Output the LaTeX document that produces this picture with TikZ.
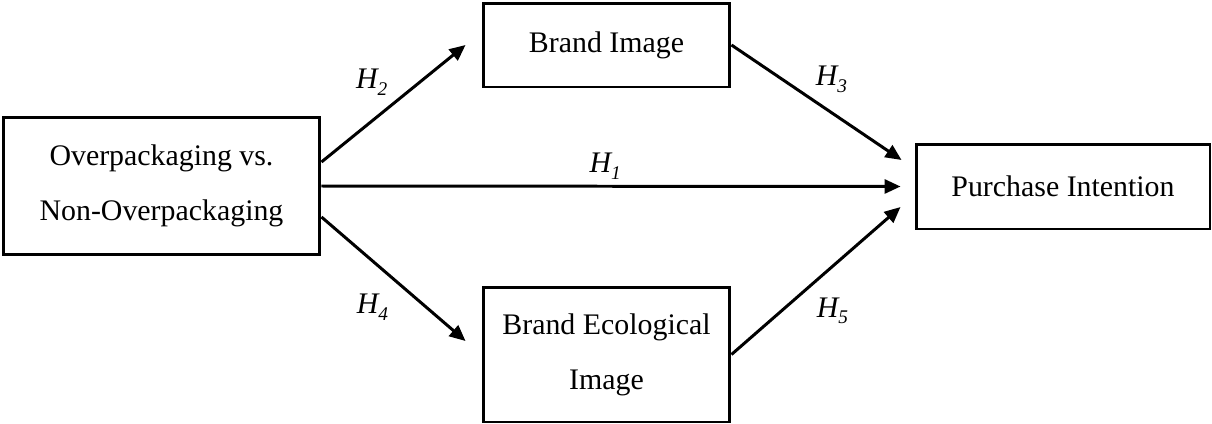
\documentclass[tikz,border=0pt]{standalone}
\usepackage{fontspec}
\setmainfont{Liberation Serif}
\usepackage{tikz}
\usetikzlibrary{positioning,calc,arrows.meta}

\newcommand{\hyplabel}[1]{H\raisebox{-3.8pt}{\fontsize{11}{12}\selectfont #1}}

\begin{document}
\begin{tikzpicture}[
    x=0.02cm, y=-0.02cm,
    box/.style={rectangle, draw, line width=1.7pt, inner sep=0pt, align=center,
        font=\fontsize{17}{31.3}\selectfont},
    hyp/.style={line width=1.7pt, -{Triangle[length=0.32cm,width=0.28cm]}},
    hlab/.style={font=\fontsize{17}{20}\selectfont\itshape, inner sep=0pt}
]
    \useasboundingbox (0,0) rectangle (1212,423);

    \node[box, minimum width=6.34cm, minimum height=2.76cm] (ovp) at (161.5,186) {Overpackaging vs.\\Non-Overpackaging};
    \node[box, minimum width=4.94cm, minimum height=1.68cm] (bi) at (606.5,45) {Brand Image};
    \node[box, minimum width=4.94cm, minimum height=2.7cm] (bei) at (606.5,354.5) {Brand Ecological\\Image};
    \node[box, minimum width=5.88cm, minimum height=1.7cm] (pi) at (1063,186.5) {Purchase Intention};

    \draw[hyp] (ovp.east) -- node[hlab, pos=.49, yshift=0.4cm] {\hyplabel{1}} ([xshift=-0.28cm]pi.west);
    \draw[hyp] ([yshift=0.48cm]ovp.east) -- node[hlab, pos=.48, xshift=-0.38cm, yshift=0.47cm] {\hyplabel{2}} ([xshift=-0.32cm]bi.west);
    \draw[hyp] (bi.east) -- node[hlab, pos=.5, xshift=0.3cm, yshift=0.46cm] {\hyplabel{3}} ([xshift=-0.26cm,yshift=0.53cm]pi.west);
    \draw[hyp] ([yshift=-0.62cm]ovp.east) -- node[hlab, pos=.51, xshift=-0.45cm, yshift=-0.54cm] {\hyplabel{4}} ([xshift=-0.32cm,yshift=0.27cm]bei.west);
    \draw[hyp] (bei.east) -- node[hlab, pos=.47, xshift=0.43cm, yshift=-0.51cm] {\hyplabel{5}} ([xshift=-0.28cm,yshift=-0.41cm]pi.west);
\end{tikzpicture}
\end{document}
